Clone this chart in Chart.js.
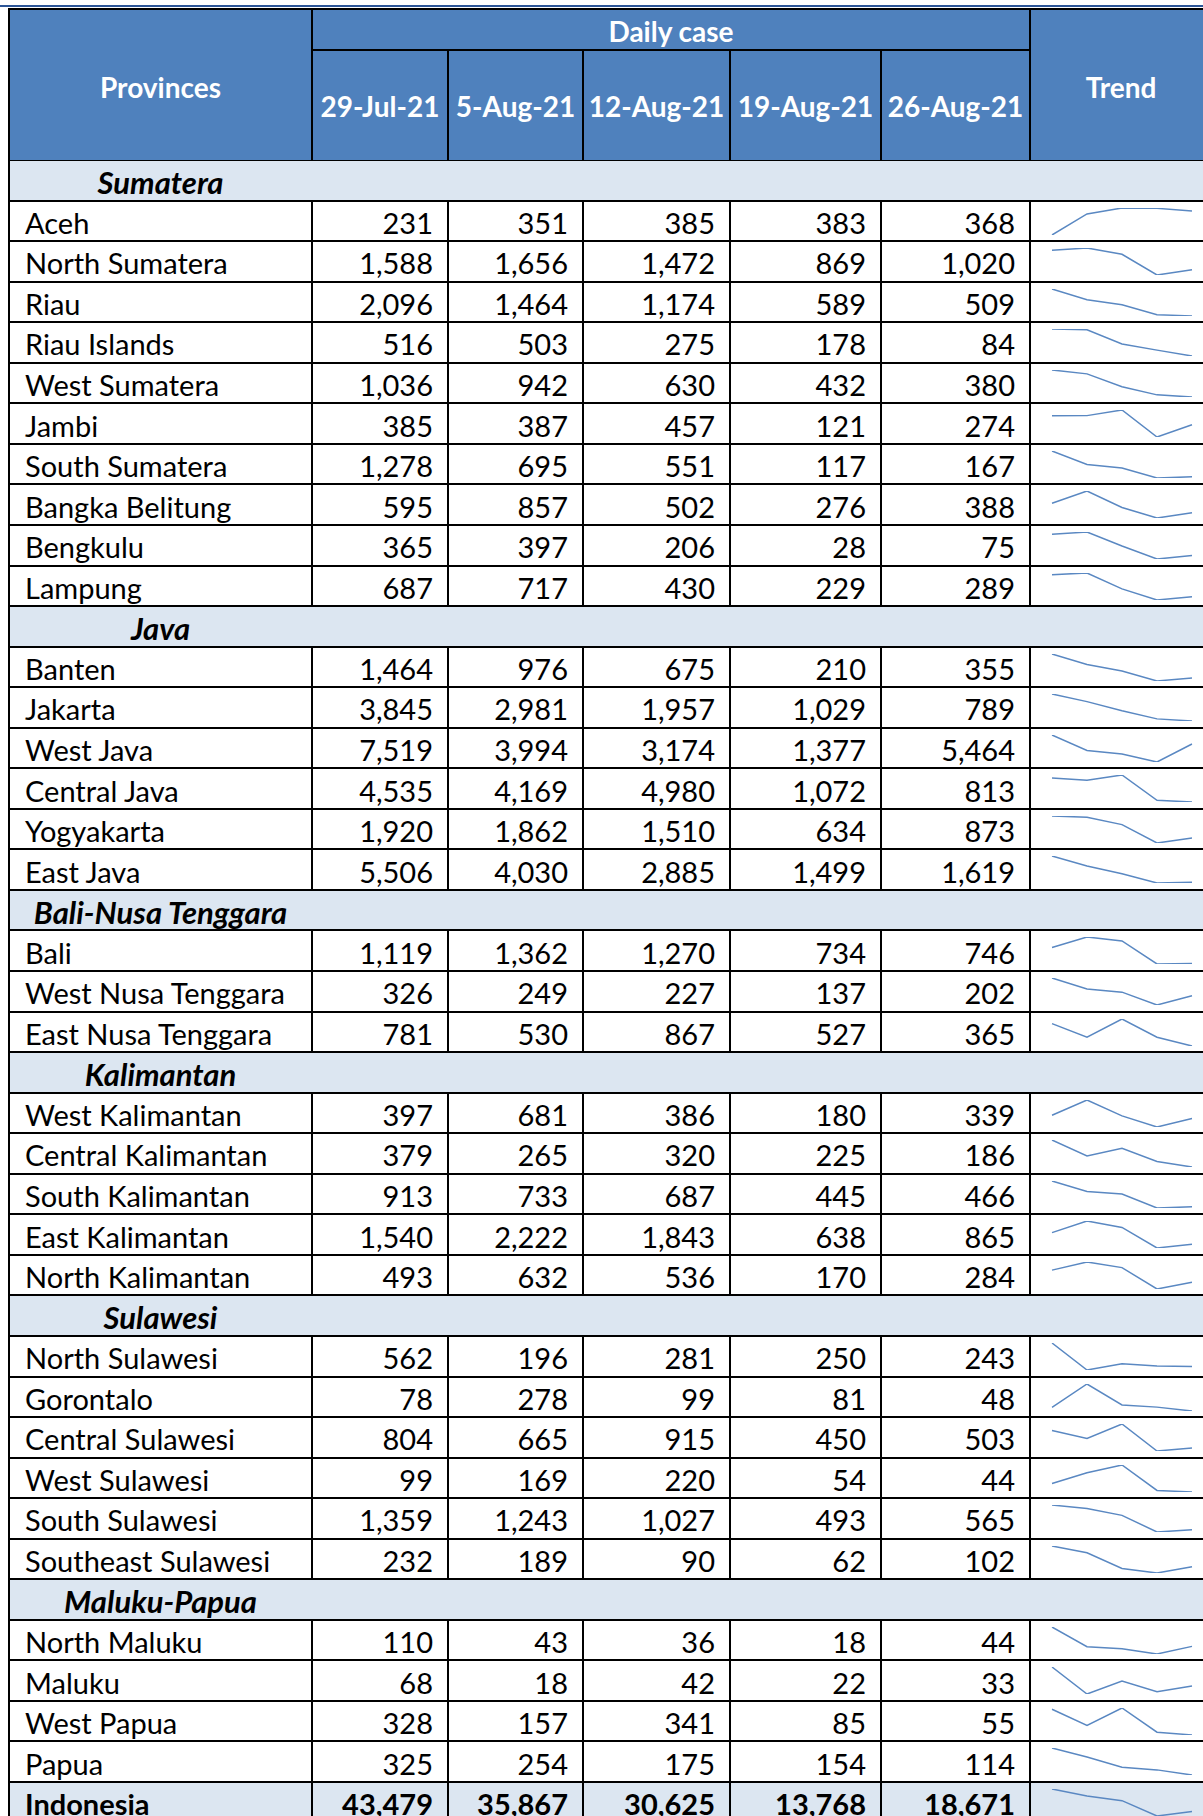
<!DOCTYPE html>
<html>
<head>
<meta charset="utf-8">
<script src="https://cdn.jsdelivr.net/npm/chart.js@4.4.1/dist/chart.umd.min.js"></script>
<style>
  body { margin: 0; background: #fff; overflow: hidden; }
  #sheet { position: relative; width: 1203px; height: 1816px; overflow: hidden; font-family: Lato, "Noto Sans", sans-serif; }
  #sheet div { position: absolute; box-sizing: border-box; white-space: nowrap; }
  .txt { display: flex; align-items: center; font-size: 29px; color: #000; padding-top: 3px; }
  .hd { background: #4f81bd; }
  .grp { background: #dce6f1; }
  .ln { background: #000; z-index: 5; }
  .bold { font-weight: 700; }
  .white { color: #fff; font-size: 28px; padding-top: 0; }
  .gl { font-weight: 700; font-style: italic; font-size: 31px; }
  canvas { position: absolute; z-index: 3; }
</style>
</head>
<body>
<div id="sheet"></div>
<script>
const dates = ['29-Jul-21', '5-Aug-21', '12-Aug-21', '19-Aug-21', '26-Aug-21'];
const regions = ['Sumatera', 'Java', 'Bali-Nusa Tenggara', 'Kalimantan', 'Sulawesi', 'Maluku-Papua'];
const regionSize = [10, 6, 3, 5, 6, 4];
const provinces = [
  'Aceh', 'North Sumatera', 'Riau', 'Riau Islands', 'West Sumatera', 'Jambi', 'South Sumatera', 'Bangka Belitung', 'Bengkulu', 'Lampung',
  'Banten', 'Jakarta', 'West Java', 'Central Java', 'Yogyakarta', 'East Java',
  'Bali', 'West Nusa Tenggara', 'East Nusa Tenggara',
  'West Kalimantan', 'Central Kalimantan', 'South Kalimantan', 'East Kalimantan', 'North Kalimantan',
  'North Sulawesi', 'Gorontalo', 'Central Sulawesi', 'West Sulawesi', 'South Sulawesi', 'Southeast Sulawesi',
  'North Maluku', 'Maluku', 'West Papua', 'Papua'
];
const dailyCases = [
  [231, 351, 385, 383, 368],
  [1588, 1656, 1472, 869, 1020],
  [2096, 1464, 1174, 589, 509],
  [516, 503, 275, 178, 84],
  [1036, 942, 630, 432, 380],
  [385, 387, 457, 121, 274],
  [1278, 695, 551, 117, 167],
  [595, 857, 502, 276, 388],
  [365, 397, 206, 28, 75],
  [687, 717, 430, 229, 289],
  [1464, 976, 675, 210, 355],
  [3845, 2981, 1957, 1029, 789],
  [7519, 3994, 3174, 1377, 5464],
  [4535, 4169, 4980, 1072, 813],
  [1920, 1862, 1510, 634, 873],
  [5506, 4030, 2885, 1499, 1619],
  [1119, 1362, 1270, 734, 746],
  [326, 249, 227, 137, 202],
  [781, 530, 867, 527, 365],
  [397, 681, 386, 180, 339],
  [379, 265, 320, 225, 186],
  [913, 733, 687, 445, 466],
  [1540, 2222, 1843, 638, 865],
  [493, 632, 536, 170, 284],
  [562, 196, 281, 250, 243],
  [78, 278, 99, 81, 48],
  [804, 665, 915, 450, 503],
  [99, 169, 220, 54, 44],
  [1359, 1243, 1027, 493, 565],
  [232, 189, 90, 62, 102],
  [110, 43, 36, 18, 44],
  [68, 18, 42, 22, 33],
  [328, 157, 341, 85, 55],
  [325, 254, 175, 154, 114]
];
const totalCases = [43479, 35867, 30625, 13768, 18671];

// layout
const X = [9, 312, 448, 583, 730, 881, 1030, 1212];
const TOP = 160, ROW_H = 40.55;
const sheet = document.getElementById('sheet');

function box(cls, l, t, w, h, text) {
  const d = document.createElement('div');
  d.className = cls;
  d.style.left = l + 'px'; d.style.top = t + 'px';
  d.style.width = w + 'px'; d.style.height = h + 'px';
  if (text != null) d.textContent = text;
  sheet.appendChild(d);
  return d;
}
function hline(x1, x2, y, w) { w = w || 2; box('ln', x1 - w / 2, y - w / 2, x2 - x1 + w, w); }
function vline(x, y1, y2) { box('ln', x - 1, y1 - 1, 2, y2 - y1 + 2); }
const fmt = v => v.toLocaleString('en-US');

// top rule
const rule = box('', 0, 5, 1203, 2); rule.style.background = '#2c5597';

// header
box('hd', X[0], 9, X[7] - X[0], 151);
let t = box('txt bold white', X[0], 11, X[1] - X[0], 151, 'Provinces'); t.style.justifyContent = 'center';
t = box('txt bold white', X[1], 10, X[6] - X[1], 41, 'Daily case'); t.style.justifyContent = 'center';
t = box('txt bold white', X[6], 11, X[7] - X[6], 151, 'Trend'); t.style.justifyContent = 'center';
dates.forEach((d, i) => {
  const c = box('txt bold white', X[i + 1], 51, X[i + 2] - X[i + 1], 110, d);
  c.style.justifyContent = 'center';
});
hline(X[0], X[7], 9);
vline(X[1], 9, 160); vline(X[6], 9, 160);
hline(X[1], X[6], 50);
for (let i = 2; i <= 5; i++) vline(X[i], 50, 160);
hline(X[0], X[7], 160, 1);

function spark(vals, y) {
  const cv = document.createElement('canvas');
  cv.width = 144; cv.height = 29;
  cv.style.left = '1050px'; cv.style.top = (y + 6) + 'px';
  sheet.appendChild(cv);
  new Chart(cv, {
    type: 'line',
    data: { labels: dates, datasets: [{ data: vals, borderColor: '#5a88c2', borderWidth: 1.5, pointRadius: 0, tension: 0, fill: false }] },
    options: {
      responsive: false, animation: false, events: [],
      layout: { padding: { left: 2, right: 2, top: 1, bottom: 1 } },
      plugins: { legend: { display: false }, tooltip: { enabled: false } },
      scales: {
        x: { display: false },
        y: { display: false, min: Math.min(...vals), max: Math.max(...vals) }
      }
    }
  });
}

function dataRow(name, vals, y, total) {
  if (total) box('grp', X[0], y, X[7] - X[0], ROW_H);
  box('txt' + (total ? ' bold' : ''), X[0] + 16, y, X[1] - X[0] - 16, ROW_H, name);
  vals.forEach((v, i) => {
    const c = box('txt' + (total ? ' bold' : ''), X[i + 1], y, X[i + 2] - X[i + 1] - 15, ROW_H, fmt(v));
    c.style.justifyContent = 'flex-end';
  });
  for (let i = 1; i <= 6; i++) vline(X[i], y, y + ROW_H);
  hline(X[0], X[7], y + ROW_H);
  spark(vals, y);
}

let y = TOP, k = 0;
regions.forEach((r, ri) => {
  box('grp', X[0], y, X[7] - X[0], ROW_H);
  const g = box('txt gl', X[0], y, X[1] - X[0], ROW_H, r);
  g.style.justifyContent = 'center';
  hline(X[0], X[7], y + ROW_H);
  y += ROW_H;
  for (let j = 0; j < regionSize[ri]; j++, k++) {
    dataRow(provinces[k], dailyCases[k], y, false);
    y += ROW_H;
  }
});
dataRow('Indonesia', totalCases, y, true);

// left border
vline(X[0], 9, 1816);
</script>
</body>
</html>
